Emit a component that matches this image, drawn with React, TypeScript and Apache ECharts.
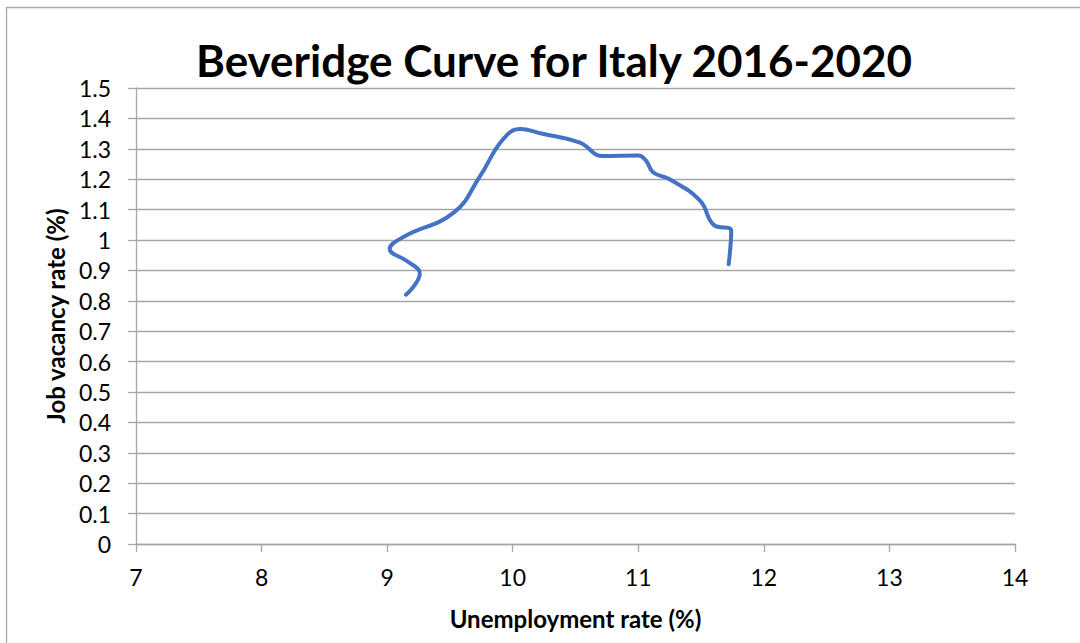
import React, { useEffect, useRef } from "react";
import * as echarts from "echarts";

const unemployment = [11.72, 11.74, 11.6, 11.49, 11.25, 11.12, 11.06, 11.0, 10.72, 10.53, 10.22, 10.06, 9.92, 9.74, 9.53, 9.13, 9.02, 9.16, 9.26, 9.15];
const vacancy = [0.92, 1.03, 1.05, 1.13, 1.2, 1.222, 1.262, 1.278, 1.276, 1.321, 1.351, 1.365, 1.33, 1.21, 1.09, 1.01, 0.97, 0.93, 0.89, 0.82];

const titleText = "Beveridge Curve for Italy 2016-2020";
const xTitle = "Unemployment rate (%)";
const yTitle = "Job vacancy rate (%)";

export default function App() {
  const ref = useRef<HTMLDivElement>(null);
  useEffect(() => {
    const chart = echarts.init(ref.current!, null, { renderer: "svg" });
    const font = "Lato, 'Open Sans', sans-serif";
    const gray = "#a6a6a6";
    chart.setOption({
      animation: false,
      backgroundColor: "#ffffff",
      textStyle: { fontFamily: font },
      title: {
        text: titleText,
        left: 549,
        textAlign: "center",
        top: 33,
        textStyle: { fontSize: 44, fontWeight: "bold", color: "#000", fontFamily: font },
      },
      graphic: [
        {
          type: "rect",
          shape: { x: 6.5, y: 7.5, width: 1100, height: 700 },
          style: { fill: "none", stroke: "#aaaaaa", lineWidth: 1.3 },
          silent: true,
        },
      ],
      grid: { left: 136, right: 65, top: 88, bottom: 99 },
      xAxis: {
        type: "value",
        min: 7,
        max: 14,
        interval: 1,
        name: xTitle,
        nameLocation: "middle",
        nameGap: 62,
        nameTextStyle: { fontSize: 24, fontWeight: "bold", color: "#000", fontFamily: font },
        axisLine: { show: true, onZero: false, lineStyle: { color: gray, width: 1.3 } },
        axisTick: { show: true, length: 8, lineStyle: { color: gray, width: 1.3 } },
        axisLabel: { fontSize: 23, color: "#000", margin: 21, fontFamily: font },
        splitLine: { show: false },
      },
      yAxis: {
        type: "value",
        min: 0,
        max: 1.5,
        interval: 0.1,
        name: yTitle,
        nameLocation: "middle",
        nameGap: 62,
        nameRotate: 90,
        nameTextStyle: { fontSize: 24, fontWeight: "bold", color: "#000", fontFamily: font },
        axisLine: { show: true, lineStyle: { color: gray, width: 1.3 } },
        axisTick: { show: true, length: 8, lineStyle: { color: gray, width: 1.3 } },
        axisLabel: { fontSize: 23, color: "#000", margin: 25, fontFamily: font },
        splitLine: { show: true, lineStyle: { color: gray, width: 1.3 } },
      },
      series: [
        {
          type: "line",
          data: unemployment.map((u, i) => [u, vacancy[i]]),
          smooth: 0.45,
          showSymbol: false,
          lineStyle: { color: "#4472C4", width: 4, cap: "round", join: "round" },
        },
      ],
    });
    return () => chart.dispose();
  }, []);
  return <div ref={ref} style={{ position: "absolute", left: 0, top: 0, width: 1080, height: 643 }} />;
}
